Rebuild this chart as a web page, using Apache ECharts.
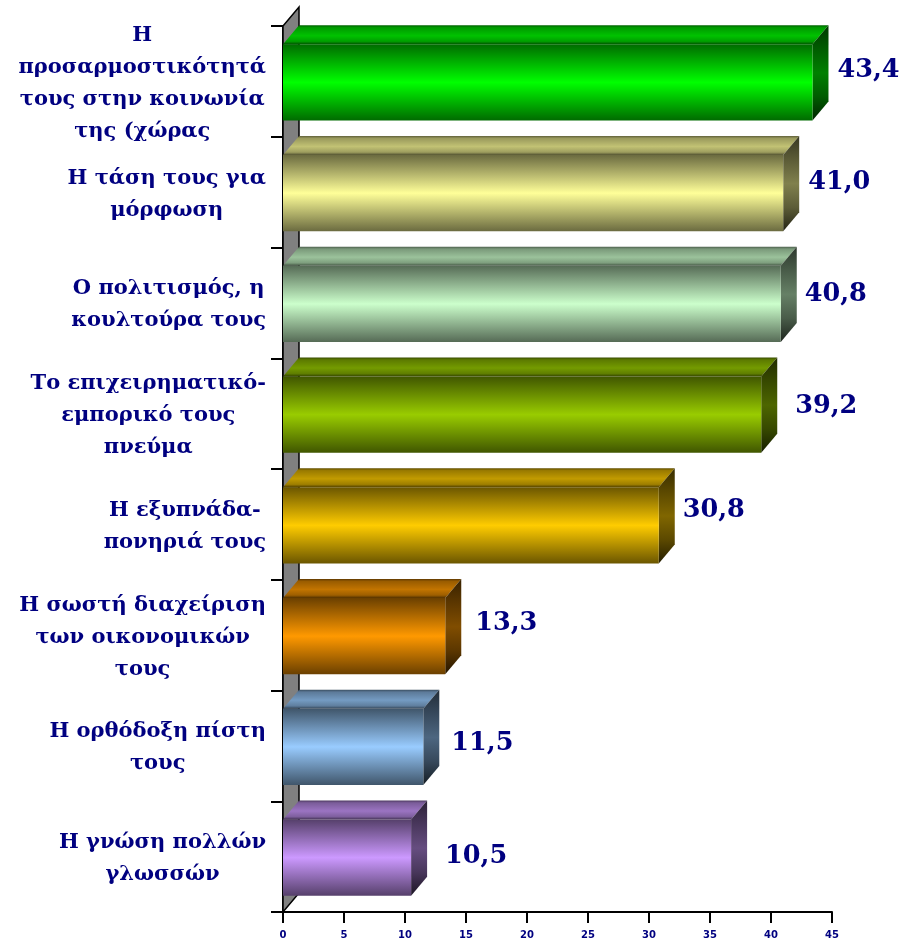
<!DOCTYPE html>
<html><head><meta charset="utf-8">
<style>html,body{margin:0;padding:0;background:#fff}#c{width:904px;height:944px}</style>
<script src="https://cdn.jsdelivr.net/npm/echarts@6/dist/echarts.min.js"></script>
</head><body><div id="c"></div>
<script>
const categories = [
  "Η\nπροσαρμοστικότητά\nτους στην κοινωνία\nτης (χώρας",
  "Η τάση τους για\nμόρφωση",
  "Ο πολιτισμός, η\nκουλτούρα τους",
  "Το επιχειρηματικό-\nεμπορικό τους\nπνεύμα",
  "Η εξυπνάδα-\nπονηριά τους",
  "Η σωστή διαχείριση\nτων οικονομικών\nτους",
  "Η ορθόδοξη πίστη\nτους",
  "Η γνώση πολλών\nγλωσσών"
];
const values = [43.4, 41.0, 40.8, 39.2, 30.8, 13.3, 11.5, 10.5];
const valueLabels = ["43,4", "41,0", "40,8", "39,2", "30,8", "13,3", "11,5", "10,5"];
const barColors = [[0,255,0],[255,255,153],[204,255,204],[153,204,0],[255,204,0],[255,153,0],[153,204,255],[204,153,255]];
const labelGapX = [25, 25, 24, 34, 24, 30, 28, 34];
const labelShiftY = [-11, -10, -9, -7, -14, -12, -3, 0];
const DX = 16, DY = 19;

const shade = (c, f) => `rgb(${c.map(v => Math.round(v * f)).join(',')})`;
const grad = (c, stops) => ({ type: 'linear', x: 0, y: 0, x2: 0, y2: 1,
  colorStops: stops.map(s => ({ offset: s[0], color: shade(c, s[1]) })) });

function renderBar(params, api) {
  const i = api.value(1), c = barColors[i];
  const p0 = api.coord([0, i]), p1 = api.coord([api.value(0), i]);
  const h = api.size([0, 1])[1] * 0.688;
  const x0 = p0[0], x1 = p1[0], top = p0[1] + 1 - h / 2, bot = top + h;
  const poly = (points, fill) => ({ type: 'polygon', shape: { points }, style: { fill } });
  return { type: 'group', children: [
    poly([[x0, top], [x0 + DX, top - DY], [x1 + DX, top - DY], [x1, top]],
      grad(c, [[0, .38], [.12, .6], [.55, .76], [.85, .62], [1, .32]])),
    poly([[x1, top], [x1 + DX, top - DY], [x1 + DX, bot - DY], [x1, bot]],
      grad(c, [[0, .22], [.25, .36], [.5, .5], [.75, .36], [1, .14]])),
    { type: 'rect', shape: { x: x0, y: top, width: x1 - x0, height: h },
      style: { fill: grad(c, [[0, .42], [.5, 1], [1, .42]]) } },
    { type: 'text', style: {
        text: valueLabels[i], x: x1 + labelGapX[i], y: p0[1] + labelShiftY[i],
        textAlign: 'left', textVerticalAlign: 'middle',
        font: 'bold 25.5px "DejaVu Serif"', fill: '#000080' } }
  ] };
}

function renderWall(params, api) {
  const s = params.coordSys, l = s.x, t = s.y, b = s.y + s.height;
  return { type: 'group', children: [
    { type: 'polygon', shape: { points: [[l, t], [l + DX, t - DY], [l + DX, b - DY], [l, b]] },
      style: { fill: '#808080', stroke: '#000', lineWidth: 1.5 } }
  ] };
}

const chart = echarts.init(document.getElementById('c'), null, { renderer: 'canvas' });
chart.setOption({
  animation: false,
  backgroundColor: '#fff',
  grid: { left: 283, right: 72, top: 26, bottom: 32, containLabel: false },
  xAxis: { type: 'value', min: 0, max: 45, interval: 5, splitLine: { show: false },
    axisLine: { show: true, lineStyle: { color: '#000', width: 2 } },
    axisTick: { show: true, length: 11, lineStyle: { color: '#000', width: 2 } },
    axisLabel: { color: '#000080', fontWeight: 'bold', fontSize: 10, fontFamily: 'DejaVu Sans', margin: 18 } },
  yAxis: { type: 'category', inverse: true, data: categories,
    axisLine: { show: true, lineStyle: { color: '#000', width: 2 } },
    axisTick: { show: true, length: 12, alignWithLabel: false, lineStyle: { color: '#000', width: 2 } },
    axisLabel: { margin: 17, align: 'right', interval: 0, padding: [4, 0, 0, 0],
      formatter: v => v.split('\n').map(l => '{c|' + l + '}').join('\n'),
      rich: { c: { align: 'center', color: '#000080', fontWeight: 'bold', fontSize: 21, lineHeight: 32, fontFamily: 'DejaVu Serif' } } } },
  series: [
    { type: 'custom', coordinateSystem: 'cartesian2d', z: 1, clip: false, silent: true,
      data: [[0, 0]], renderItem: renderWall, encode: { x: 0, y: 1 } },
    { type: 'custom', coordinateSystem: 'cartesian2d', z: 3, clip: false, silent: true,
      data: values.map((v, i) => [v, i]), renderItem: renderBar, encode: { x: 0, y: 1 } }
  ]
});
</script></body></html>
